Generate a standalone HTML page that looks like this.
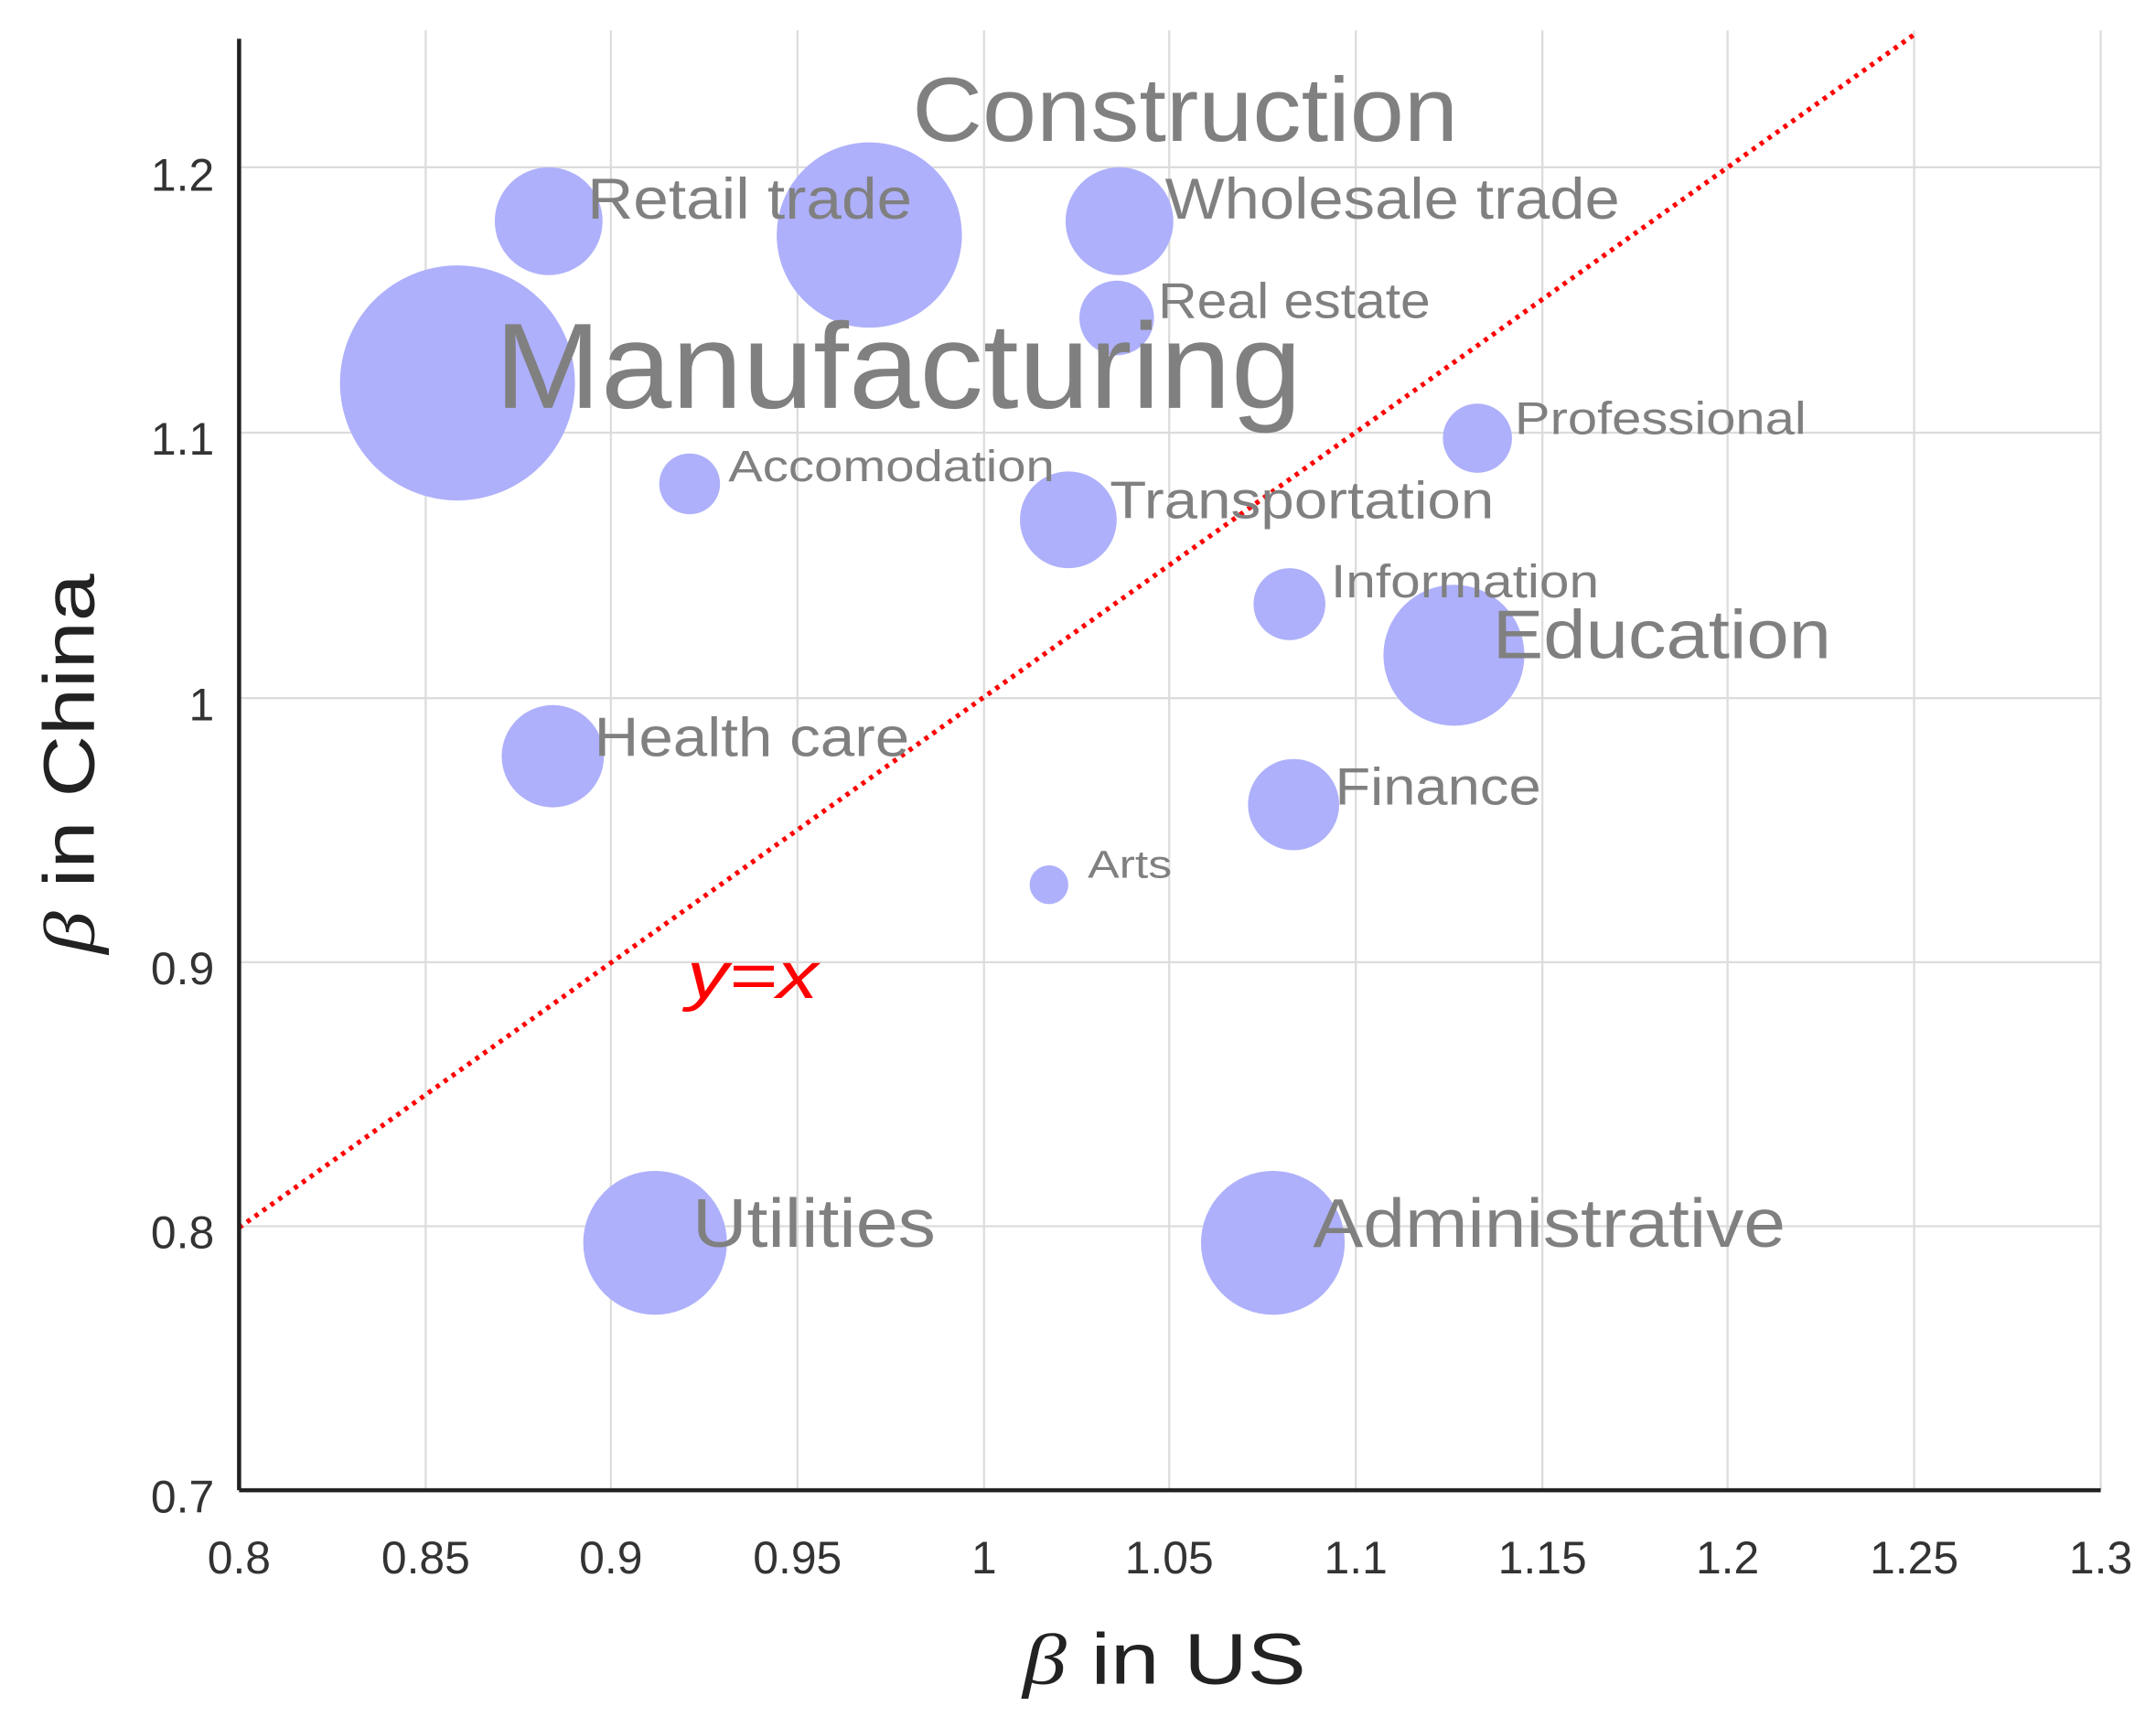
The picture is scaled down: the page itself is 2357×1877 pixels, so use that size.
<!DOCTYPE html>
<html><head><meta charset="utf-8"><style>html,body{margin:0;padding:0;background:#fff}svg{display:block}</style></head>
<body>
<svg width="2357" height="1877" viewBox="0 0 1560 1242" preserveAspectRatio="none" xmlns="http://www.w3.org/2000/svg" font-family="Liberation Sans, sans-serif">
<g stroke="#dcdcdc" stroke-width="1.5">
<line x1="308" y1="22" x2="308" y2="1078"/><line x1="442" y1="22" x2="442" y2="1078"/><line x1="577" y1="22" x2="577" y2="1078"/><line x1="712" y1="22" x2="712" y2="1078"/><line x1="846" y1="22" x2="846" y2="1078"/><line x1="981" y1="22" x2="981" y2="1078"/><line x1="1116" y1="22" x2="1116" y2="1078"/><line x1="1250" y1="22" x2="1250" y2="1078"/><line x1="1385" y1="22" x2="1385" y2="1078"/><line x1="1520" y1="22" x2="1520" y2="1078"/>
<line x1="173" y1="887" x2="1520" y2="887"/><line x1="173" y1="696" x2="1520" y2="696"/><line x1="173" y1="505" x2="1520" y2="505"/><line x1="173" y1="313" x2="1520" y2="313"/><line x1="173" y1="121" x2="1520" y2="121"/>
</g>
<g fill="#aeb0fb">
<circle cx="331" cy="277" r="85"/><circle cx="629" cy="170" r="67"/><circle cx="397" cy="160" r="39"/><circle cx="810" cy="160" r="39"/><circle cx="808" cy="230" r="27"/><circle cx="499" cy="350" r="22"/><circle cx="773" cy="376" r="35"/><circle cx="1069" cy="317" r="25"/><circle cx="933" cy="437" r="26"/><circle cx="1052" cy="474" r="51"/><circle cx="400" cy="547" r="37"/><circle cx="936" cy="582" r="33"/><circle cx="759" cy="640" r="14"/><circle cx="474" cy="899" r="52"/><circle cx="921" cy="899" r="52"/>
</g>
<line x1="173" y1="888" x2="1385" y2="25" stroke="#f00" stroke-width="3.5" stroke-dasharray="3,4"/>
<g fill="#808080" lengthAdjust="spacingAndGlyphs">
<text x="660" y="102" font-size="66" textLength="395" lengthAdjust="spacingAndGlyphs">Construction</text>
<text x="425" y="158" font-size="42" textLength="235" lengthAdjust="spacingAndGlyphs">Retail trade</text>
<text x="843" y="158" font-size="42" textLength="329" lengthAdjust="spacingAndGlyphs">Wholesale trade</text>
<text x="838" y="230" font-size="36" textLength="197" lengthAdjust="spacingAndGlyphs">Real estate</text>
<text x="358" y="295" font-size="88" textLength="584" lengthAdjust="spacingAndGlyphs">Manufacturing</text>
<text x="1096" y="314" font-size="33" textLength="211" lengthAdjust="spacingAndGlyphs">Professional</text>
<text x="527" y="348" font-size="32" textLength="236" lengthAdjust="spacingAndGlyphs">Accomodation</text>
<text x="803" y="375" font-size="38" textLength="278" lengthAdjust="spacingAndGlyphs">Transportation</text>
<text x="963" y="432" font-size="34" textLength="194" lengthAdjust="spacingAndGlyphs">Information</text>
<text x="1080" y="476" font-size="50" textLength="245" lengthAdjust="spacingAndGlyphs">Education</text>
<text x="430" y="547" font-size="40" textLength="228" lengthAdjust="spacingAndGlyphs">Health care</text>
<text x="966" y="582" font-size="38" textLength="149" lengthAdjust="spacingAndGlyphs">Finance</text>
<text x="787" y="635" font-size="28" textLength="61" lengthAdjust="spacingAndGlyphs">Arts</text>
<text x="501" y="902" font-size="50" textLength="176" lengthAdjust="spacingAndGlyphs">Utilities</text>
<text x="950" y="902" font-size="50" textLength="342" lengthAdjust="spacingAndGlyphs">Administrative</text>
</g>
<text x="497" y="722" font-size="48" font-style="italic" fill="#f00" textLength="95" lengthAdjust="spacingAndGlyphs">y=x</text>
<g stroke="#222" stroke-width="3"><line x1="173" y1="1078" x2="1520" y2="1078"/><line x1="173" y1="28" x2="173" y2="1078"/></g>
<g fill="#333" font-size="33" text-anchor="middle">
<text x="173" y="1138">0.8</text><text x="308" y="1138">0.85</text><text x="442" y="1138">0.9</text><text x="577" y="1138">0.95</text><text x="712" y="1138">1</text><text x="846" y="1138">1.05</text><text x="981" y="1138">1.1</text><text x="1116" y="1138">1.15</text><text x="1250" y="1138">1.2</text><text x="1385" y="1138">1.25</text><text x="1520" y="1138">1.3</text>
</g>
<g fill="#333" font-size="33" text-anchor="end">
<text x="155" y="1094">0.7</text><text x="155" y="903">0.8</text><text x="155" y="712">0.9</text><text x="155" y="521">1</text><text x="155" y="329">1.1</text><text x="155" y="138">1.2</text>
</g>
<text x="740" y="1218" font-size="52" fill="#222" textLength="205" lengthAdjust="spacingAndGlyphs"><tspan font-family="Liberation Serif, serif" font-style="italic">β</tspan> in US</text>
<text transform="translate(68,690) rotate(-90)" font-size="52" fill="#222" textLength="275" lengthAdjust="spacingAndGlyphs"><tspan font-family="Liberation Serif, serif" font-style="italic">β</tspan> in China</text>
</svg>
</body></html>
